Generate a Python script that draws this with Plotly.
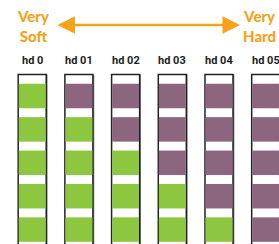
import plotly.graph_objects as go

categories = ["hd 0", "hd 01", "hd 02", "hd 03", "hd 04", "hd 05"]
# 1 = hard (purple), 0 = soft (green); rows top to bottom
cell_states = [
    [0, 0, 0, 0, 0],
    [1, 0, 0, 0, 0],
    [1, 1, 0, 0, 0],
    [1, 1, 1, 0, 0],
    [1, 1, 1, 1, 0],
    [1, 1, 1, 1, 1],
]
scale_left = ["Very", "Soft"]
scale_right = ["Very", "Hard"]

GREEN = "#8DC63F"
PURPLE = "#8C667E"
ORANGE = "#F7A21B"

W, H = 279, 244
px_per_col = 46.7
col0_px = 32.2
px_per_row = 33.4
row0_px = 96.0

x_range = [-col0_px / px_per_col, (W - col0_px) / px_per_col]
y_range = [(H - row0_px) / px_per_row, -row0_px / px_per_row]

fig = go.Figure()

ncol = len(categories)
xs = list(range(ncol))
box_top = (74.5 - row0_px) / px_per_row

# shadow (gray right edge)
fig.add_trace(go.Bar(
    x=[x + 0.02 for x in xs], y=[8] * ncol, base=[box_top] * ncol,
    width=0.62, marker=dict(color="#8a8a8a", line=dict(width=0)),
    hoverinfo="skip"))
# box outlines
fig.add_trace(go.Bar(
    x=xs, y=[8] * ncol, base=[box_top] * ncol,
    width=0.60, marker=dict(color="white", line=dict(color="#222222", width=1.5)),
    hoverinfo="skip"))

cell_h = 24.5 / px_per_row
for state, color in [(0, GREEN), (1, PURPLE)]:
    cx, cb = [], []
    for ci, col in enumerate(cell_states):
        for ri, s in enumerate(col):
            if s == state:
                cx.append(ci)
                cb.append(ri - cell_h / 2)
    fig.add_trace(go.Bar(
        x=cx, y=[cell_h] * len(cx), base=cb, width=0.575,
        marker=dict(color=color, line=dict(width=0)), hoverinfo="skip"))

label_y = (60 - row0_px) / px_per_row
for i, c in enumerate(categories):
    fig.add_annotation(x=i, y=label_y, text=c, showarrow=False,
                       font=dict(family="Roboto, sans-serif",
                                 size=11, color="#222222", weight="bold"),
                       xanchor="center", yanchor="middle")

def px_to_x(p):
    return (p - col0_px) / px_per_col

def py_to_y(p):
    return (p - row0_px) / px_per_row

fig.add_annotation(x=px_to_x(33), y=py_to_y(25.5), text="<br>".join(scale_left),
                   showarrow=False, align="center",
                   font=dict(family="Lato, Open Sans, sans-serif", size=15, color=ORANGE, weight=900))
fig.add_annotation(x=px_to_x(259), y=py_to_y(25.5), text="<br>".join(scale_right),
                   showarrow=False, align="center",
                   font=dict(family="Lato, Open Sans, sans-serif", size=15, color=ORANGE, weight=900))

fig.add_annotation(x=px_to_x(240), y=py_to_y(25), ax=px_to_x(56), ay=py_to_y(25),
                   xref="x", yref="y", axref="x", ayref="y", text="",
                   showarrow=True, arrowhead=2, startarrowhead=2, arrowside="end+start",
                   arrowsize=1.4, startarrowsize=1.4, arrowwidth=2.5, arrowcolor=ORANGE)

fig.update_layout(
    width=W, height=H, margin=dict(l=0, r=0, t=0, b=0),
    paper_bgcolor="white", plot_bgcolor="white",
    barmode="overlay", showlegend=False, hovermode=False,
    xaxis=dict(range=x_range, visible=False, fixedrange=True),
    yaxis=dict(range=y_range, visible=False, fixedrange=True),
)
fig.write_html("out.html", config={"displayModeBar": False},
               post_script="document.body.style.margin='0';document.body.style.overflow='hidden';")
